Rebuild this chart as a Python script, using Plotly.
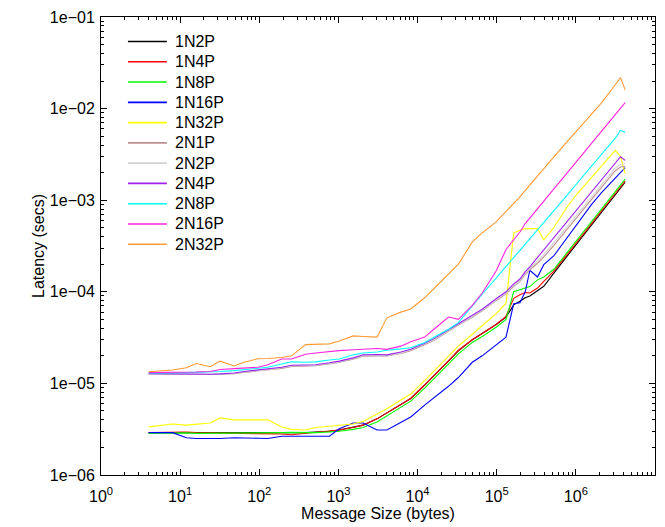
import plotly.graph_objects as go

sizes = [4, 6, 8, 12, 16, 24, 32, 48, 64, 96, 128, 192, 256, 384, 512, 768, 1024,
         1536, 2048, 3072, 4096, 6144, 8192, 12288, 16384, 24576, 32768, 49152,
         65536, 98304, 131072, 163840, 196608, 229376, 262144, 327680, 393216,
         524288, 786432, 1048576, 1572864, 2097152, 3145728, 3670016, 4194304]

n1_2p = [2.9e-6, 2.9e-6, 2.9e-6, 2.9e-6, 2.9e-6, 2.9e-6, 2.85e-6, 2.85e-6, 2.85e-6, 2.85e-6,
         2.85e-6, 2.85e-6, 2.85e-6, 2.9e-6, 2.95e-6, 3.0e-6, 3.1e-6, 3.3e-6, 3.5e-6, 4.1e-6,
         4.75e-6, 5.9e-6, 6.85e-6, 9.6e-6, 1.23e-5, 1.76e-5, 2.27e-5, 3.0e-5, 3.5e-5, 4.4e-5,
         5.3e-5, 7.2e-5, 7.9e-5, 8.6e-5, 9.0e-5, 1.02e-4, 1.15e-4, 1.59e-4, 2.48e-4, 3.4e-4,
         5.3e-4, 7.2e-4, 1.13e-3, 1.34e-3, 1.57e-3]
n1_4p = [2.9e-6, 2.92e-6, 2.95e-6, 2.95e-6, 2.9e-6, 2.88e-6, 2.9e-6, 2.85e-6, 2.85e-6, 2.85e-6,
         2.85e-6, 2.8e-6, 2.75e-6, 2.85e-6, 2.9e-6, 3.0e-6, 3.1e-6, 3.3e-6, 3.5e-6, 4.1e-6,
         4.75e-6, 5.9e-6, 6.85e-6, 9.6e-6, 1.23e-5, 1.76e-5, 2.3e-5, 3.0e-5, 3.5e-5, 4.4e-5,
         5.4e-5, 8.5e-5, 9.3e-5, 9.8e-5, 9.7e-5, 1.1e-4, 1.3e-4, 1.67e-4, 2.6e-4, 3.57e-4,
         5.55e-4, 7.55e-4, 1.18e-3, 1.4e-3, 1.62e-3]
n1_8p = [2.85e-6, 2.88e-6, 2.9e-6, 2.88e-6, 2.85e-6, 2.85e-6, 2.88e-6, 2.9e-6, 2.9e-6, 2.9e-6,
         2.88e-6, 2.9e-6, 2.92e-6, 2.9e-6, 2.9e-6, 2.95e-6, 3.0e-6, 3.15e-6, 3.3e-6, 3.8e-6,
         4.4e-6, 5.5e-6, 6.4e-6, 8.9e-6, 1.14e-5, 1.63e-5, 2.1e-5, 2.8e-5, 3.25e-5, 4.1e-5,
         5.0e-5, 1.0e-4, 1.06e-4, 1.1e-4, 1.14e-4, 1.35e-4, 1.45e-4, 1.75e-4, 2.72e-4, 3.7e-4,
         5.8e-4, 7.9e-4, 1.24e-3, 1.47e-3, 1.7e-3]
n1_16p = [2.9e-6, 2.9e-6, 2.9e-6, 2.55e-6, 2.5e-6, 2.5e-6, 2.5e-6, 2.55e-6, 2.52e-6, 2.52e-6,
          2.5e-6, 2.65e-6, 2.65e-6, 2.65e-6, 2.65e-6, 2.65e-6, 3.2e-6, 3.7e-6, 3.7e-6, 3.1e-6,
          3.1e-6, 3.8e-6, 4.3e-6, 5.8e-6, 7.0e-6, 9.3e-6, 1.16e-5, 1.7e-5, 2.0e-5, 2.6e-5,
          3.2e-5, 7.4e-5, 7.6e-5, 1.0e-4, 1.72e-4, 1.45e-4, 1.98e-4, 2.46e-4, 3.94e-4, 5.55e-4,
          8.94e-4, 1.2e-3, 1.75e-3, 2.02e-3, 2.27e-3]
n1_32p = [3.35e-6, 3.5e-6, 3.6e-6, 3.5e-6, 3.6e-6, 3.7e-6, 4.2e-6, 4.0e-6, 4.0e-6, 4.0e-6,
          4.0e-6, 3.35e-6, 3.15e-6, 3.1e-6, 3.3e-6, 3.4e-6, 3.5e-6, 3.6e-6, 3.85e-6, 4.6e-6,
          5.3e-6, 6.6e-6, 7.65e-6, 1.07e-5, 1.38e-5, 1.97e-5, 2.55e-5, 3.44e-5, 4.26e-5, 5.77e-5,
          7.5e-5, 4.4e-4, 4.7e-4, 4.9e-4, 4.9e-4, 4.9e-4, 3.7e-4, 5.0e-4, 8.6e-4, 1.19e-3,
          1.76e-3, 2.33e-3, 3.5e-3, 3.0e-3, 1.95e-3]
n2_4p = [1.28e-5, 1.27e-5, 1.27e-5, 1.26e-5, 1.26e-5, 1.26e-5, 1.27e-5, 1.3e-5, 1.35e-5, 1.4e-5,
         1.42e-5, 1.5e-5, 1.58e-5, 1.6e-5, 1.6e-5, 1.68e-5, 1.75e-5, 1.9e-5, 2.05e-5, 2.07e-5,
         2.05e-5, 2.2e-5, 2.36e-5, 2.75e-5, 3.1e-5, 3.85e-5, 4.5e-5, 5.5e-5, 6.44e-5, 8.4e-5,
         1.0e-4, 1.22e-4, 1.38e-4, 1.66e-4, 1.87e-4, 2.37e-4, 2.87e-4, 3.88e-4, 5.93e-4, 8.05e-4,
         1.23e-3, 1.66e-3, 2.55e-3, 2.98e-3, 2.72e-3]
n2_1p = [1.27e-5, 1.26e-5, 1.26e-5, 1.25e-5, 1.25e-5, 1.25e-5, 1.26e-5, 1.28e-5, 1.32e-5, 1.37e-5,
         1.39e-5, 1.46e-5, 1.53e-5, 1.55e-5, 1.56e-5, 1.63e-5, 1.7e-5, 1.84e-5, 1.98e-5, 2.0e-5,
         1.99e-5, 2.12e-5, 2.28e-5, 2.65e-5, 2.98e-5, 3.7e-5, 4.33e-5, 5.28e-5, 6.2e-5, 8.0e-5,
         9.5e-5, 1.15e-4, 1.3e-4, 1.55e-4, 1.74e-4, 2.05e-4, 2.4e-4, 3.2e-4, 4.9e-4, 6.6e-4,
         1.0e-3, 1.36e-3, 2.1e-3, 2.3e-3, 2.35e-3]
n2_2p = [1.27e-5, 1.27e-5, 1.26e-5, 1.26e-5, 1.25e-5, 1.26e-5, 1.26e-5, 1.29e-5, 1.33e-5, 1.38e-5,
         1.4e-5, 1.48e-5, 1.55e-5, 1.57e-5, 1.57e-5, 1.65e-5, 1.72e-5, 1.86e-5, 2.0e-5, 2.02e-5,
         2.01e-5, 2.15e-5, 2.31e-5, 2.69e-5, 3.02e-5, 3.76e-5, 4.4e-5, 5.36e-5, 6.3e-5, 8.15e-5,
         9.7e-5, 1.18e-4, 1.33e-4, 1.6e-4, 1.8e-4, 2.15e-4, 2.55e-4, 3.42e-4, 5.2e-4, 7.05e-4,
         1.08e-3, 1.46e-3, 2.25e-3, 2.45e-3, 2.5e-3]
n2_8p = [1.29e-5, 1.29e-5, 1.3e-5, 1.31e-5, 1.32e-5, 1.33e-5, 1.35e-5, 1.38e-5, 1.42e-5, 1.46e-5,
         1.5e-5, 1.63e-5, 1.72e-5, 1.7e-5, 1.72e-5, 1.8e-5, 1.85e-5, 2.05e-5, 2.15e-5, 2.2e-5,
         2.3e-5, 2.38e-5, 2.45e-5, 2.8e-5, 3.2e-5, 3.9e-5, 4.6e-5, 7.1e-5, 9.4e-5, 1.41e-4,
         1.88e-4, 2.34e-4, 2.8e-4, 3.27e-4, 3.76e-4, 4.72e-4, 5.69e-4, 7.64e-4, 1.15e-3, 1.55e-3,
         2.34e-3, 3.14e-3, 4.75e-3, 5.8e-3, 5.5e-3]
n2_16p = [1.31e-5, 1.31e-5, 1.32e-5, 1.32e-5, 1.33e-5, 1.35e-5, 1.42e-5, 1.45e-5, 1.47e-5, 1.5e-5,
          1.6e-5, 1.85e-5, 1.85e-5, 2.08e-5, 2.15e-5, 2.25e-5, 2.28e-5, 2.33e-5, 2.36e-5, 2.4e-5,
          2.35e-5, 2.55e-5, 2.85e-5, 3.2e-5, 3.95e-5, 5.3e-5, 5.0e-5, 7.1e-5, 9.7e-5, 1.69e-4,
          2.9e-4, 3.7e-4, 4.5e-4, 5.56e-4, 6.4e-4, 8.07e-4, 9.8e-4, 1.32e-3, 2.01e-3, 2.73e-3,
          4.16e-3, 5.61e-3, 8.59e-3, 1.01e-2, 1.16e-2]
n2_32p = [1.34e-5, 1.37e-5, 1.4e-5, 1.48e-5, 1.65e-5, 1.52e-5, 1.75e-5, 1.55e-5, 1.7e-5, 1.86e-5,
          1.87e-5, 1.92e-5, 2.0e-5, 2.65e-5, 2.65e-5, 2.7e-5, 2.9e-5, 3.3e-5, 3.25e-5, 3.2e-5,
          5.2e-5, 6.0e-5, 6.5e-5, 8.6e-5, 1.1e-4, 1.58e-4, 2.0e-4, 3.5e-4, 4.4e-4, 5.8e-4,
          7.5e-4, 9.1e-4, 1.09e-3, 1.28e-3, 1.47e-3, 1.85e-3, 2.22e-3, 2.96e-3, 4.42e-3, 5.86e-3,
          8.63e-3, 1.15e-2, 1.82e-2, 2.18e-2, 1.6e-2]

names = ["1N2P", "1N4P", "1N8P", "1N16P", "1N32P", "2N1P", "2N2P", "2N4P", "2N8P", "2N16P", "2N32P"]
series = [n1_2p, n1_4p, n1_8p, n1_16p, n1_32p, n2_1p, n2_2p, n2_4p, n2_8p, n2_16p, n2_32p]
colors = ["#000000", "#ff0000", "#00ff00", "#0000ff", "#ffff00", "#bc8f8f", "#d3d3d3",
          "#a020f0", "#00ffff", "#ff22dd", "#ff9933"]

x_tickvals = [1, 10, 100, 1e3, 1e4, 1e5, 1e6, 1e7]
x_ticktext = ["10<sup>%d</sup>" % i for i in range(8)]
y_tickvals = [1e-6, 1e-5, 1e-4, 1e-3, 1e-2, 1e-1]
y_ticktext = ["1e\u221206", "1e\u221205", "1e\u221204", "1e\u221203", "1e\u221202", "1e\u221201"]

x_minor = [m * 10 ** d for d in range(7) for m in range(2, 10)]
y_minor = [m * 10.0 ** d for d in range(-6, -1) for m in range(2, 10)]

W, H = 665, 527
ML, MR, MT, MB = 101, 9, 17, 49
PW, PH = W - ML - MR, H - MT - MB

fig = go.Figure()
for name, ys, c in zip(names, series, colors):
    fig.add_trace(go.Scatter(x=sizes, y=ys, mode="lines", name=name,
                             line=dict(color=c, width=1.1), showlegend=False))

font = dict(family="Liberation Sans, Arial, sans-serif", size=16, color="black")
axis_common = dict(type="log", showgrid=False, zeroline=False, showline=True,
                   linecolor="black", linewidth=1, mirror="allticks", ticks="inside",
                   ticklen=6, tickcolor="black", tickfont=font)

fig.update_xaxes(range=[0, 7], tickvals=x_tickvals, ticktext=x_ticktext,
                 ticklabelstandoff=7,
                 title=dict(text="Message Size (bytes)", font=font, standoff=2),
                 minor=dict(tickvals=x_minor, ticks="inside", ticklen=3, tickcolor="black"),
                 **axis_common)
fig.update_yaxes(range=[-6, -1], tickvals=y_tickvals, ticktext=y_ticktext,
                 ticklabelstandoff=2,
                 title=dict(text="Latency (secs)", font=font, standoff=1),
                 minor=dict(tickvals=y_minor, ticks="inside", ticklen=3, tickcolor="black"),
                 **axis_common)

# hand-placed legend (line samples + labels) matching the reference layout
leg_line_x0, leg_line_x1, leg_text_x = 128, 167, 173
leg_y0, leg_dy = 41.7, 20.4
shapes, annotations = [], []
for i, (name, c) in enumerate(zip(names, colors)):
    py = leg_y0 + i * leg_dy
    yp = (H - MB - py) / PH
    shapes.append(dict(type="line", xref="paper", yref="paper",
                       x0=(leg_line_x0 - ML) / PW, x1=(leg_line_x1 - ML) / PW,
                       y0=yp, y1=yp, line=dict(color=c, width=1.6)))
    annotations.append(dict(xref="paper", yref="paper", x=(leg_text_x - ML) / PW, y=yp,
                            xanchor="left", yanchor="middle", text=name, showarrow=False,
                            font=font))

fig.update_layout(
    width=W, height=H,
    margin=dict(l=ML, r=MR, t=MT, b=MB),
    paper_bgcolor="white", plot_bgcolor="white",
    font=font, showlegend=False,
    shapes=shapes, annotations=annotations,
)

fig.write_html("out.html")
